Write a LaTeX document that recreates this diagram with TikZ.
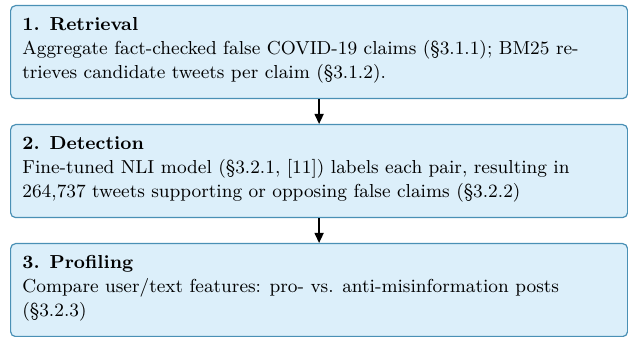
\documentclass[tikz,border=0pt]{standalone}
\usepackage{fontspec}
\setmainfont{Latin Modern Roman}
\usetikzlibrary{arrows.meta}
\definecolor{boxfill}{HTML}{DCEFFA}
\definecolor{boxdraw}{HTML}{4A90B5}
\begin{document}
\begin{tikzpicture}[x=1pt,y=1pt,
  stagebox/.style={draw=boxdraw, fill=boxfill, line width=0.6pt, rounded corners=2.5pt,
    minimum width=308.5pt, minimum height=46.5pt, inner sep=0pt, anchor=north west},
  stagetext/.style={anchor=base west, inner sep=0pt, font=\rmfamily\fontsize{9.4}{12}\selectfont},
  flow/.style={line width=0.7pt, -{Triangle[width=4.5pt,length=5pt]}}]
\useasboundingbox (0,0) rectangle (314,168.5);
\node[stagebox] (b1) at (5,166) {};
\node[stagebox] (b2) at (5,106.5) {};
\node[stagebox] (b3) at (5,47) {};
\node[stagetext] (t1) at ([xshift=6pt,yshift=-13pt]b1.north west)
  {\parbox[t]{300pt}{\raggedright\textbf{1. Retrieval}\\
   Aggregate fact-checked false COVID-19 claims (§3.1.1); BM25 re-\\
   trieves candidate tweets per claim (§3.1.2).}};
\node[stagetext] (t2) at ([xshift=6pt,yshift=-13pt]b2.north west)
  {\parbox[t]{300pt}{\raggedright\textbf{2. Detection}\\
   Fine-tuned NLI model (§3.2.1, [11]) labels each pair, resulting in\\
   264,737 tweets supporting or opposing false claims (§3.2.2)}};
\node[stagetext] (t3) at ([xshift=6pt,yshift=-13pt]b3.north west)
  {\parbox[t]{300pt}{\raggedright\textbf{3. Profiling}\\
   Compare user/text features: pro- vs. anti-misinformation posts\\
   (§3.2.3)}};
\draw[flow] (b1.south) -- (b2.north);
\draw[flow] (b2.south) -- (b3.north);
\end{tikzpicture}
\end{document}
